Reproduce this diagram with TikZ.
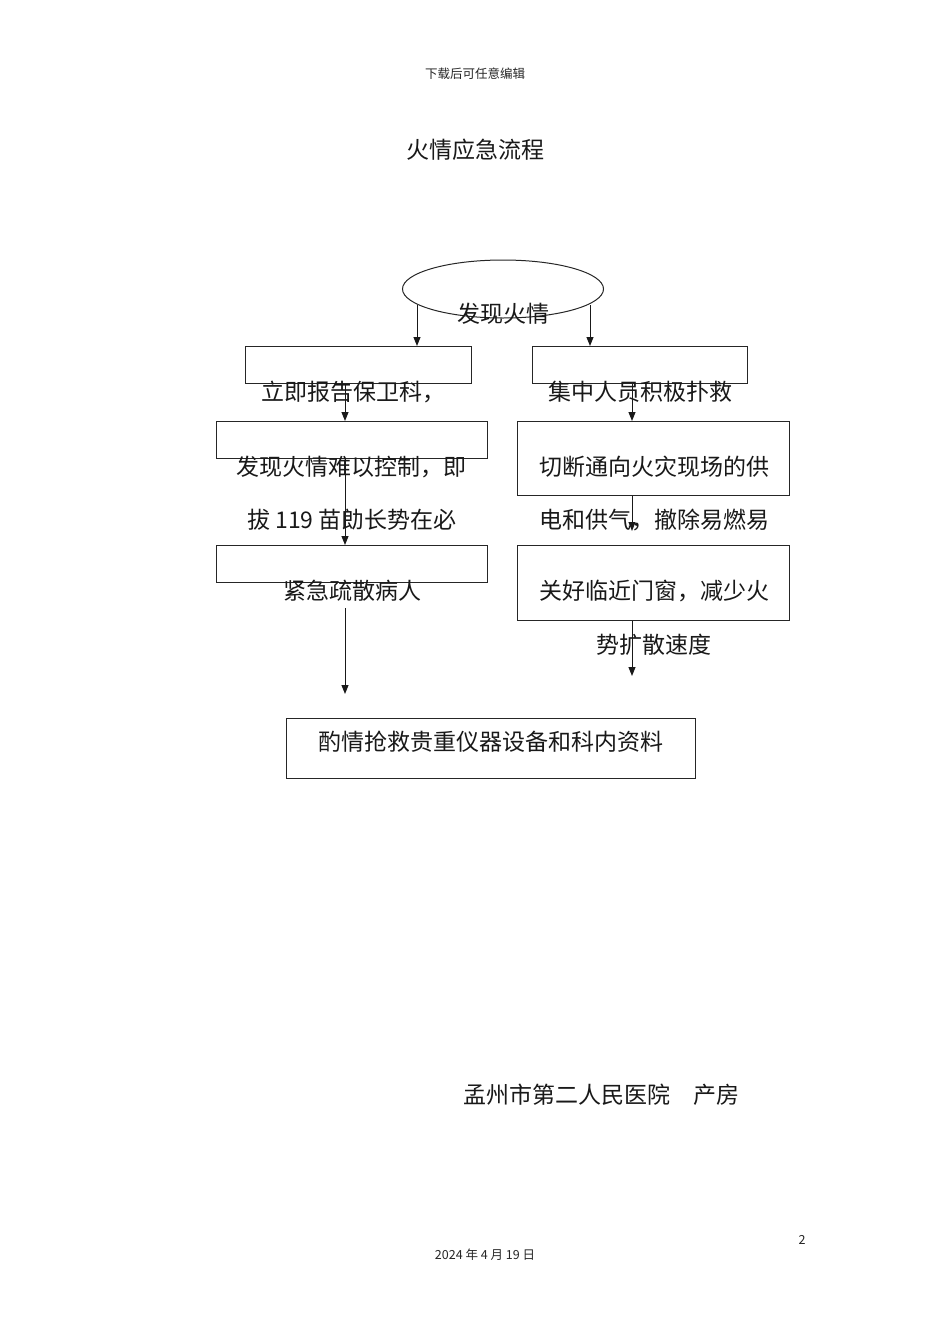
\documentclass[tikz,border=0pt]{standalone}
\usepackage{fontspec}
\newfontfamily\cjk{Noto Sans CJK SC}
\usetikzlibrary{arrows.meta,shapes.geometric}
\begin{document}
\begin{tikzpicture}[x=1pt,y=-1pt,
  box/.style={draw=black!85, line width=1pt, inner sep=0pt, anchor=north west},
  txt/.style={font=\cjk\fontsize{23}{23}\selectfont, inner sep=0pt, text=black!90},
  small/.style={font=\cjk\fontsize{12.5}{12.5}\selectfont, inner sep=0pt, text=black!85},
  arr/.style={draw=black!90, line width=1pt, -{Triangle[length=9pt,width=7pt]}}]
\useasboundingbox[fill=white] (0,0) rectangle (950,1344);

% page header and title
\node[small] (hdr) at (475,74) {下载后可任意编辑};
\node[txt] (title) at (475,150) {火情应急流程};

% start ellipse
\node[draw=black!85, line width=1pt, ellipse, minimum width=201pt, minimum height=58pt, inner sep=0pt] (start) at (503,289) {};
\node[txt] (startlbl) at (503,314) {发现火情};

% boxes
\node[box, minimum width=226pt, minimum height=37pt] (l1) at (245,346) {};
\node[box, minimum width=215pt, minimum height=37pt] (r1) at (532,346) {};
\node[box, minimum width=271pt, minimum height=37pt] (l2) at (216,421) {};
\node[box, minimum width=272pt, minimum height=74pt] (r2) at (517,421) {};
\node[box, minimum width=271pt, minimum height=37pt] (l3) at (216,545) {};
\node[box, minimum width=272pt, minimum height=75pt] (r3) at (517,545) {};
\node[box, minimum width=409pt, minimum height=60pt] (fin) at (286,718) {};

% box texts
\node[txt] (l1t) at (353,392) {立即报告保卫科，};
\node[txt] (r1t) at (640,392) {集中人员积极扑救};
\node[txt] (l2t) at (351,467) {发现火情难以控制，即};
\node[txt] (l2u) at (352,520) {拔 119 苗勆长势在必};
\node[txt] (r2t) at (654,467) {切断通向火灾现场的供};
\node[txt] (r2u) at (654,520) {电和供气，撤除易燃易};
\node[txt] (l3t) at (352,591) {紧急疏散病人};
\node[txt] (r3t) at (654,591) {关好临近门窗，减少火};
\node[txt] (r3u) at (654,645) {势扩散速度};
\node[txt] (fint) at (491,742) {酌情抢救贵重仪器设备和科内资料};

% connector columns and free ends
\coordinate (xl) at (345,0);
\coordinate (xr) at (632,0);
\coordinate (s1) at (417,305);
\coordinate (s2) at (590,305);
\coordinate (l3a) at (345,608);
\coordinate (l3b) at (345,694);
\coordinate (r2b) at (632,531);
\coordinate (r3b) at (632,676);

% connectors
\draw[arr] (s1) -- (l1.north -| s1);
\draw[arr] (s2) -- (r1.north -| s2);
\draw[arr] (l1.south -| xl) -- (l2.north -| xl);
\draw[arr] (r1.south -| xr) -- (r2.north -| xr);
\draw[arr] (l2.south -| xl) -- (l3.north -| xl);
\draw[arr] (r2.south -| xr) -- (r2b);
\draw[arr] (l3a) -- (l3b);
\draw[arr] (r3.south -| xr) -- (r3b);

% footer
\node[txt] (org) at (601,1095) {孟州市第二人民医院\quad 产房};
\node[small] (pg) at (802,1240) {2};
\node[small] (date) at (485,1255) {2024 年 4 月 19 日};
\end{tikzpicture}
\end{document}
